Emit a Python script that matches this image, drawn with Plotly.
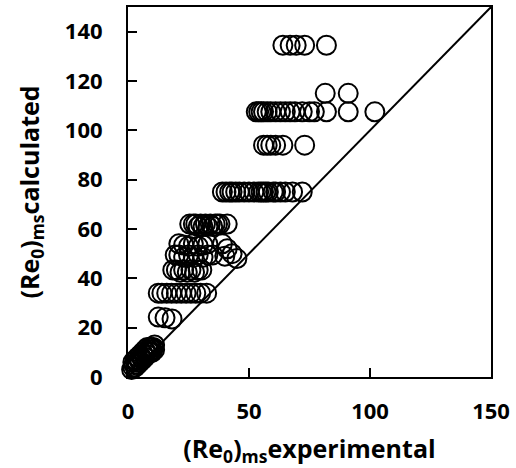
import plotly.graph_objects as go

# Experimental vs calculated (Re0)ms values
x_exp = [
    # y ~ 134.5
    64, 67, 69.5, 73, 82,
    # y ~ 115
    81.5, 91,
    # y ~ 107
    53, 54, 55, 56, 57.5, 59, 61, 63, 65, 67, 69, 72, 75, 77, 82, 91, 102,
    # y ~ 94
    56, 57.5, 59, 61, 64, 73,
    # y ~ 75
    39, 40.5, 42, 43, 44.5, 46, 48, 50, 52, 54, 55, 56, 57, 58, 60, 61, 63, 65, 68, 72,
    # y ~ 62
    25.5, 27, 28, 29, 30, 31, 32, 33, 34, 35, 36, 37, 38, 41,
    # y ~ 53
    21, 23, 25, 27, 29, 31, 33,
    # right cluster
    39, 41, 43, 45, 40,
    # y ~ 50
    19.5, 21, 23, 25, 27, 29, 31, 33, 35,
    # y ~ 43
    18.5, 20, 21.5, 23, 24.5, 26, 27.5, 29, 30.5,
    # y ~ 34
    12.5, 14, 16, 18, 20, 22, 24, 26, 28, 30, 32.5,
    # y ~ 25
    12.5, 15.3, 18.2,
    # near origin
    1.5, 2, 2.5, 3, 3.5, 4, 4.5, 5, 5.5, 6, 6.5, 7, 7.5, 8, 8.5, 9, 9.5, 10, 10.5, 11,
    3, 5, 7, 9, 2, 6, 8, 4, 10, 11,
]
y_calc = [
    134.5, 134.5, 134.5, 134.5, 134.5,
    115, 115,
    107.5, 107.5, 107.5, 107.5, 107.5, 107.5, 107.5, 107.5, 107.5, 107.5, 107.5, 107.5, 107.5, 107.5, 107.5, 107.5, 107.5,
    94, 94, 94, 94, 94, 94,
    75, 75, 75, 75, 75, 75, 75, 75, 75, 75, 75, 75, 75, 75, 75, 75, 75, 75, 75, 75,
    62, 62, 62, 61, 62, 61, 62, 61, 62, 61, 62, 62, 62, 62,
    54, 53.5, 53, 54, 53, 53.5, 54,
    54, 52, 50, 48, 49,
    49.5, 49.5, 48.5, 49.5, 48.5, 49.5, 48.5, 49.5, 49.5,
    43.4, 43.4, 42.5, 43.4, 42.5, 43.4, 42.5, 43.4, 43.4,
    34, 34, 34, 34, 34, 34, 34, 34, 34, 34, 34,
    24.3, 24, 23.5,
    3, 4, 5, 4, 6, 5, 7, 6, 8, 7, 9, 8, 10, 9, 11, 10, 12, 11, 12, 13,
    7, 9, 11, 12, 6, 10, 12, 8, 10, 11,
]
line_x = [0, 150]
line_y = [0, 150]

FONT = "Open Sans"

fig = go.Figure()
fig.add_trace(go.Scatter(
    x=x_exp, y=y_calc, mode="markers",
    marker=dict(symbol="circle-open", size=19, color="black", line=dict(width=2, color="black")),
    showlegend=False, cliponaxis=False,
))
fig.add_trace(go.Scatter(
    x=line_x, y=line_y, mode="lines",
    line=dict(color="black", width=2), showlegend=False,
))

axis_common = dict(
    showgrid=False, zeroline=False, showline=True, linecolor="black", linewidth=2,
    mirror=True, ticks="inside", ticklen=9, tickwidth=2, tickcolor="black",
    automargin=False,
    tickfont=dict(family=FONT, size=22, color="black", weight="bold"),
)
fig.update_layout(
    width=516, height=468,
    margin=dict(l=128, r=25, t=7, b=91),
    paper_bgcolor="white", plot_bgcolor="white",
    xaxis=dict(range=[0, 150], tickvals=[0, 50, 100, 150], ticklabelstandoff=14,
               title=dict(text="(Re<sub>0</sub>)<sub>ms</sub>experimental", standoff=21,
                          font=dict(family=FONT, size=25, color="black", weight="bold")),
               **axis_common),
    yaxis=dict(range=[0, 150], tickvals=[0, 20, 40, 60, 80, 100, 120, 140], ticklabelstandoff=19,
               title=dict(text="(Re<sub>0</sub>)<sub>ms</sub>calculated", standoff=18,
                          font=dict(family=FONT, size=25, color="black", weight="bold")),
               **axis_common),
)

fig.write_html("out.html")
